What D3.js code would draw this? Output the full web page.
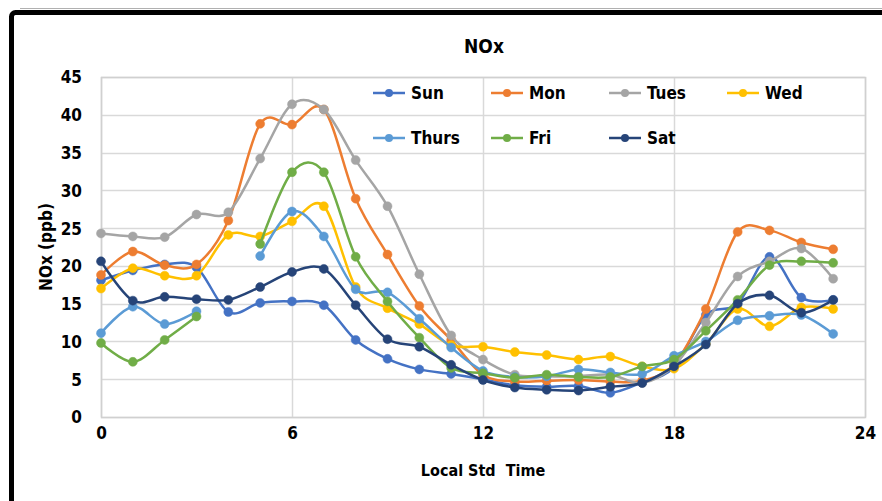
<!DOCTYPE html>
<html>
<head>
<meta charset="utf-8">
<script src="https://cdn.jsdelivr.net/npm/d3@7"></script>
<style>
  html, body { margin: 0; padding: 0; background: #fff; }
  svg { display: block; }
  text { font-family: "Liberation Sans Narrow", "DejaVu Sans Condensed", "Arial Narrow", sans-serif; font-weight: bold; fill: #000; }
</style>
</head>
<body>
<svg id="chart" width="882" height="501"></svg>
<script>
// Hourly NOx by day of week (ppb); null = no reading for that hour
const hours = d3.range(0, 24);
const seriesNames = ["Sun", "Mon", "Tues", "Wed", "Thurs", "Fri", "Sat"];
const seriesColors = ["#4472C4", "#ED7D31", "#A5A5A5", "#FFC000", "#5B9BD5", "#70AD47", "#264478"];

const sun   = [18.1, 19.4, 20.2, 19.8, 13.9, 15.1, 15.3, 14.8, 10.2, 7.7, 6.3, 5.7, 5.0, 4.2, 4.0, 4.1, 3.2, 4.6, 6.6, 13.5, 15.0, 21.2, 15.8, 15.5];
const mon   = [18.8, 21.9, 20.1, 20.2, 26.0, 38.8, 38.7, 40.7, 28.9, 21.5, 14.7, 10.2, 5.6, 4.7, 4.8, 4.9, 4.7, 4.8, 7.0, 14.3, 24.5, 24.7, 23.1, 22.2];
const tues  = [24.3, 23.9, 23.8, 26.8, 27.1, 34.2, 41.4, 40.7, 34.0, 27.9, 18.9, 10.8, 7.6, 5.6, 5.4, 5.4, 5.6, 4.5, 6.8, 12.5, 18.6, 20.6, 22.3, 18.3];
const wed   = [17.0, 19.7, 18.7, 18.7, 24.1, 23.9, 25.9, 27.9, 17.2, 14.4, 12.3, 9.5, 9.3, 8.6, 8.2, 7.6, 8.0, 6.7, 6.4, 9.7, 14.3, 12.0, 14.5, 14.3];
const thurs = [11.1, 14.6, 12.3, 14.0, null, 21.3, 27.2, 23.9, 16.9, 16.5, 13.0, 9.2, 6.1, 5.3, 5.4, 6.3, 5.9, 5.7, 8.1, 10.0, 12.8, 13.4, 13.5, 11.0];
const fri   = [9.8, 7.3, 10.2, 13.3, null, 22.9, 32.4, 32.4, 21.2, 15.3, 10.5, 6.5, 5.8, 5.2, 5.6, 5.3, 5.3, 6.7, 7.6, 11.4, 15.5, 20.1, 20.6, 20.4];
const sat   = [20.6, 15.4, 15.9, 15.6, 15.5, 17.2, 19.2, 19.6, 14.8, 10.3, 9.3, 6.9, 4.9, 3.9, 3.6, 3.5, 4.0, 4.5, 6.7, 9.6, 15.0, 16.1, 13.8, 15.5];

const xTicks = [0, 6, 12, 18, 24];
const yTicks = [0, 5, 10, 15, 20, 25, 30, 35, 40, 45];

const seriesValues = [sun, mon, tues, wed, thurs, fri, sat];
const series = seriesNames.map((name, i) => ({
  name,
  color: seriesColors[i],
  points: hours.map(h => ({ h, v: seriesValues[i][h] }))
}));

const svg = d3.select("#chart");
const W = 882, H = 501;
const plot = { left: 101, right: 865, top: 77, bottom: 417 };

const x = d3.scaleLinear().domain([0, 24]).range([plot.left, plot.right]);
const y = d3.scaleLinear().domain([0, 45]).range([plot.bottom, plot.top]);

// Outer frame
svg.append("line")
  .attr("x1", 20).attr("x2", W).attr("y1", 8.5).attr("y2", 8.5)
  .attr("stroke", "#b0b0b0").attr("stroke-width", 1);
svg.append("rect")
  .attr("x", 11.5).attr("y", 12.5)
  .attr("width", 1000).attr("height", 700)
  .attr("rx", 4)
  .attr("fill", "none").attr("stroke", "#000").attr("stroke-width", 5);

// Gridlines
const grid = svg.append("g");
grid.selectAll("line.h").data(yTicks).join("line")
  .attr("x1", plot.left).attr("x2", plot.right)
  .attr("y1", d => Math.round(y(d)) + 0.5).attr("y2", d => Math.round(y(d)) + 0.5)
  .attr("stroke", "#d9d9d9").attr("stroke-width", 1.5);
grid.selectAll("line.v").data(xTicks).join("line")
  .attr("y1", plot.top).attr("y2", plot.bottom)
  .attr("x1", d => Math.round(x(d)) + 0.5).attr("x2", d => Math.round(x(d)) + 0.5)
  .attr("stroke", "#d9d9d9").attr("stroke-width", 1.5);
svg.append("rect")
  .attr("x", plot.left + 0.5).attr("y", plot.top + 0.5)
  .attr("width", plot.right - plot.left).attr("height", plot.bottom - plot.top)
  .attr("fill", "none").attr("stroke", "#d0d0d0").attr("stroke-width", 1.5);

// Axes (labels only; Excel-style, no tick marks)
const yAxis = d3.axisLeft(y).tickValues(yTicks).tickSize(0).tickPadding(0);
const gy = svg.append("g").attr("transform", `translate(${plot.left - 19},0)`).call(yAxis);
gy.select(".domain").remove();
gy.selectAll("text").style("font-size", "17px").attr("dy", "0.35em").attr("fill", "#000");

const xAxis = d3.axisBottom(x).tickValues(xTicks).tickSize(0).tickPadding(0);
const gx = svg.append("g").attr("transform", `translate(0,${plot.bottom + 16})`).call(xAxis);
gx.select(".domain").remove();
gx.selectAll("text").style("font-size", "17px").attr("dy", "0.35em").attr("fill", "#000");

// Titles
svg.append("text").attr("x", 484).attr("y", 46).attr("dy", "0.35em")
  .attr("text-anchor", "middle").style("font-size", "19px").text("NOx");
svg.append("text").attr("x", 483).attr("y", 470).attr("dy", "0.35em")
  .attr("text-anchor", "middle").style("font-size", "16px").style("white-space", "pre")
  .text("Local Std  Time");
svg.append("text").attr("transform", "translate(46,247) rotate(-90)").attr("dy", "0.35em")
  .attr("text-anchor", "middle").style("font-size", "17px").text("NOx (ppb)");

// Series: smoothed lines with circle markers
const line = d3.line()
  .defined(d => d.v != null)
  .x(d => x(d.h)).y(d => y(d.v))
  .curve(d3.curveCatmullRom.alpha(0));

const gs = svg.append("g");
series.forEach(s => {
  gs.append("path").datum(s.points)
    .attr("d", line)
    .attr("fill", "none").attr("stroke", s.color).attr("stroke-width", 2.5)
    .attr("stroke-linejoin", "round").attr("stroke-linecap", "round");
  gs.selectAll(null).data(s.points.filter(d => d.v != null)).join("circle")
    .attr("cx", d => x(d.h)).attr("cy", d => y(d.v)).attr("r", 4.5)
    .attr("fill", s.color).attr("stroke", s.color).attr("stroke-width", 0.5);
});

// Legend: 4 columns x 2 rows
const legendCols = [373, 491, 609, 727];
const legendRows = [93, 138];
const lg = svg.append("g");
series.forEach((s, i) => {
  const cx = legendCols[i % 4], cy = legendRows[Math.floor(i / 4)];
  const g = lg.append("g").attr("transform", `translate(${cx},${cy})`);
  g.append("line").attr("x1", 0).attr("x2", 32).attr("y1", 0).attr("y2", 0)
    .attr("stroke", s.color).attr("stroke-width", 2.5);
  g.append("circle").attr("cx", 16).attr("cy", 0).attr("r", 4).attr("fill", s.color);
  g.append("text").attr("x", 38).attr("y", 0).attr("dy", "0.35em")
    .style("font-size", "17px").text(s.name);
});
</script>
</body>
</html>
